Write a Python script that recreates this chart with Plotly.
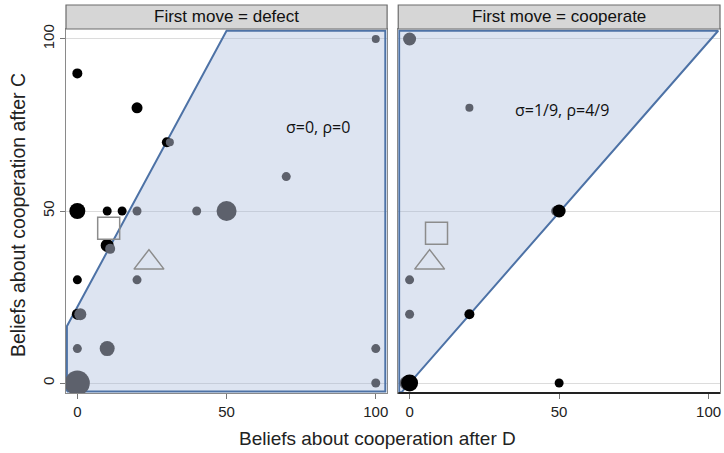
import plotly.graph_objects as go

# ---------------- data ----------------
# Left panel: first move = defect
left_black_x = [0, 20, 30, 0, 10, 15, 10, 0, 0, 0]
left_black_y = [90, 80, 70, 50, 50, 50, 40, 30, 20, -1]
left_black_s = [10, 11, 10, 16, 9, 9, 13, 9, 11, 12]

left_grey_x = [100, 70, 20, 40, 50, 31, 11, 20, 1, 0, 10, 100, 100, 0]
left_grey_y = [100, 60, 50, 50, 50, 70, 39, 30, 20, 10, 10, 10, 0, 0]
left_grey_s = [8, 9, 9, 9, 20, 8, 10, 9, 12, 9, 15, 9, 9, 25]

left_square = (10.5, 45)
left_triangle = (24, 35)

# Right panel: first move = cooperate
right_black_x = [50, 20, 50, 0]
right_black_y = [50, 20, 0, 0]
right_black_s = [13, 10, 9, 17]

right_grey_x = [0, 20, 49, 0, 0, -1]
right_grey_y = [100, 80, 50, 30, 20, 0]
right_grey_s = [13, 8, 10, 9, 9, 14]

right_square = (9, 43.5)
right_triangle = (6.7, 35)

# Region polygons (data units)
left_poly_x = [-3.5, -3.5, 50, 103.2, 103.2, -3.5]
left_poly_y = [-2.5, 16.5, 102.4, 102.4, -2.5, -2.5]
right_poly_x = [-3.5, -3.5, 103.2, -2.7, -3.5]
right_poly_y = [-2.7, 102.4, 102.4, -2.7, -2.7]

panel_titles = ["First move = defect", "First move = cooperate"]
param_labels = ["σ=0, ρ=0", "σ=1/9, ρ=4/9"]
label_pos = [(80.5, 74.5), (51, 79.5)]
tick_vals = [0, 50, 100]
x_title = "Beliefs about cooperation after D"
y_title = "Beliefs about cooperation after C"

# ---------------- style ----------------
BLACK = "#000000"
GREY = "#5d616c"
FILL = "rgba(160,180,215,0.36)"
EDGE = "#4d72a6"
HOLLOW = "#8c8c8c"
FONT = "Liberation Sans, Arial, sans-serif"

fig = go.Figure()

def add_panel(ax, px, py, bx, by, bs, gx, gy, gs, sq, tri, black_on_top):
    xa, ya = ("x", "y") if ax == 1 else ("x2", "y2")
    fig.add_trace(go.Scatter(x=px, y=py, xaxis=xa, yaxis=ya, mode="lines",
                             fill="toself", fillcolor=FILL,
                             line=dict(color=EDGE, width=2), hoverinfo="skip",
                             showlegend=False))
    black = go.Scatter(x=bx, y=by, xaxis=xa, yaxis=ya, mode="markers",
                       marker=dict(color=BLACK, size=bs, opacity=1, line=dict(width=0)),
                       showlegend=False)
    grey = go.Scatter(x=gx, y=gy, xaxis=xa, yaxis=ya, mode="markers",
                      marker=dict(color=GREY, size=gs, opacity=1, line=dict(width=0)),
                      showlegend=False)
    if black_on_top:
        fig.add_trace(grey); fig.add_trace(black)
    else:
        fig.add_trace(black); fig.add_trace(grey)
    fig.add_trace(go.Scatter(x=[sq[0]], y=[sq[1]], xaxis=xa, yaxis=ya,
                             mode="markers",
                             marker=dict(symbol="square-open", size=22, opacity=1,
                                         color=HOLLOW, line=dict(width=1.5)),
                             showlegend=False))
    fig.add_trace(go.Scatter(x=[tri[0]], y=[tri[1]], xaxis=xa, yaxis=ya,
                             mode="markers",
                             marker=dict(symbol="triangle-up-open", size=26, opacity=1,
                                         color=HOLLOW, line=dict(width=1.5)),
                             showlegend=False))

add_panel(1, left_poly_x, left_poly_y, left_black_x, left_black_y, left_black_s,
          left_grey_x, left_grey_y, left_grey_s, left_square, left_triangle, False)
add_panel(2, right_poly_x, right_poly_y, right_black_x, right_black_y, right_black_s,
          right_grey_x, right_grey_y, right_grey_s, right_square, right_triangle, True)

xr = [-3.8, 103.8]
yr = [-2.9, 102.9]
dom1 = [0, 0.491]
dom2 = [0.508, 1]

def xaxis_cfg(dom, anchor):
    return dict(domain=dom, anchor=anchor, range=xr, tickvals=tick_vals,
                ticks="outside", ticklen=5, tickcolor="#777", showgrid=False,
                zeroline=False, showline=True, linecolor="#8a8a8a", linewidth=1.2,
                mirror=True, tickfont=dict(family=FONT, size=15, color="#222"),
                ticklabeloverflow="allow")

fig.update_layout(
    width=724, height=453,
    margin=dict(l=66, r=4, t=29, b=60),
    paper_bgcolor="white", plot_bgcolor="white",
    font=dict(family=FONT, color="#222"),
    xaxis=xaxis_cfg(dom1, "y"),
    xaxis2=xaxis_cfg(dom2, "y2"),
    yaxis=dict(domain=[0, 1], anchor="x", range=yr, tickvals=tick_vals,
               ticks="outside", ticklen=5, tickcolor="#777", tickangle=-90,
               showgrid=True, gridcolor="#dcdcdc", gridwidth=1, zeroline=False,
               showline=True, linecolor="#8a8a8a", linewidth=1.2, mirror=True,
               tickfont=dict(family=FONT, size=15, color="#222")),
    yaxis2=dict(domain=[0, 1], anchor="x2", range=yr, tickvals=tick_vals,
                showticklabels=False, ticks="",
                showgrid=True, gridcolor="#dcdcdc", gridwidth=1, zeroline=False,
                showline=True, linecolor="#8a8a8a", linewidth=1.2, mirror=True),
)

# right panel bottom axis darker
fig.add_shape(type="line", xref="x2 domain", yref="y2 domain", x0=0, x1=1, y0=0, y1=0,
              line=dict(color="#222", width=2))

# strip headers
for dom, title in zip([dom1, dom2], panel_titles):
    fig.add_shape(type="rect", xref="paper", yref="paper", x0=dom[0], x1=dom[1],
                  y0=1.0, y1=1.066, fillcolor="#d6d6d6",
                  line=dict(color="#6b6b6b", width=1.2), layer="above")
    fig.add_annotation(xref="paper", yref="paper", x=(dom[0] + dom[1]) / 2,
                       y=1.033, text=title, showarrow=False,
                       font=dict(family=FONT, size=17, color="#111"),
                       xanchor="center", yanchor="middle")

# parameter labels
for i, (lab, pos) in enumerate(zip(param_labels, label_pos)):
    fig.add_annotation(xref="x" if i == 0 else "x2", yref="y" if i == 0 else "y2",
                       x=pos[0], y=pos[1], text=lab, showarrow=False,
                       font=dict(family="Open Sans, sans-serif", size=16, color="#111"))

# axis titles
fig.add_annotation(xref="paper", yref="paper", x=0.476, y=-0.124, text=x_title,
                   showarrow=False, font=dict(family=FONT, size=19, color="#222"),
                   xanchor="center", yanchor="middle")
fig.add_annotation(xref="paper", yref="paper", x=-0.0734, y=0.489, text=y_title,
                   textangle=-90, showarrow=False,
                   font=dict(family=FONT, size=19.5, color="#222"),
                   xanchor="center", yanchor="middle")

# remove the browser's default 8px body margin so the figure fills the window
fig.write_html("out.html",
               config={"displayModeBar": False},
               post_script="document.body.style.margin='0';"
                           "document.documentElement.style.overflow='hidden';")
